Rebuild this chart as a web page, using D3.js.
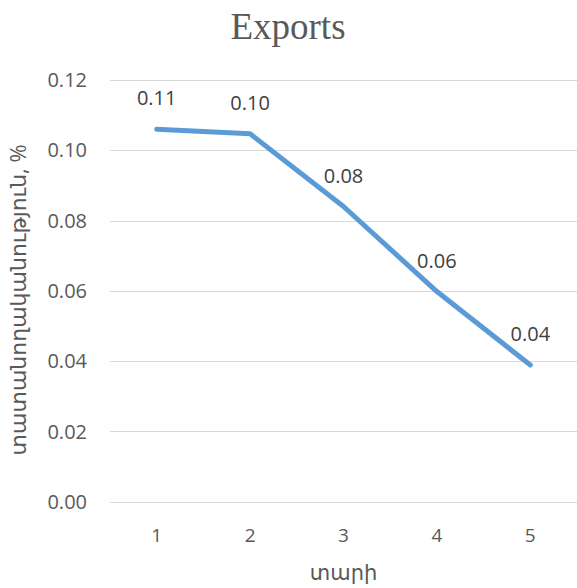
<!DOCTYPE html>
<html>
<head>
<meta charset="utf-8">
<script src="https://cdn.jsdelivr.net/npm/d3@7"></script>
<style>
  html, body { margin: 0; padding: 0; background: #fff; }
  svg { display: block; }
  text { font-family: "Open Sans", "DejaVu Sans", sans-serif; }
</style>
</head>
<body>
<svg id="chart" width="577" height="588"></svg>
<script>
const title = "Exports";
const xTitle = "տարի";
const yTitle = "տատանողականություն, %";
const categories = [1, 2, 3, 4, 5];
const values = [0.106, 0.1047, 0.0840, 0.0598, 0.0389];
const yTicks = [0, 0.02, 0.04, 0.06, 0.08, 0.10, 0.12];

const svg = d3.select("#chart");
const plot = { left: 110, right: 577, top: 80, bottom: 501.7 };

const x = d3.scaleBand().domain(categories).range([plot.left, plot.right]);
const y = d3.scaleLinear().domain([0, 0.12]).range([plot.bottom, plot.top]);
const cx = d => x(d) + x.bandwidth() / 2;

// gridlines
svg.append("g").selectAll("line").data(yTicks).join("line")
  .attr("x1", plot.left).attr("x2", plot.right)
  .attr("y1", d => Math.round(y(d)) + 0.5).attr("y2", d => Math.round(y(d)) + 0.5)
  .attr("stroke", "#d9d9d9").attr("stroke-width", 1);

// y tick labels
svg.append("g").selectAll("text").data(yTicks).join("text")
  .attr("x", 87).attr("y", d => y(d)).attr("dy", "0.36em")
  .attr("text-anchor", "end").attr("fill", "#595959").attr("font-size", 20)
  .text(d => d3.format(".2f")(d));

// x tick labels
svg.append("g").selectAll("text").data(categories).join("text")
  .attr("x", d => cx(d)).attr("y", 542)
  .attr("text-anchor", "middle").attr("fill", "#595959").attr("font-size", 19)
  .text(d => d);

// line
const line = d3.line().x((d, i) => cx(categories[i])).y(d => y(d));
svg.append("path").datum(values)
  .attr("d", line).attr("fill", "none")
  .attr("stroke", "#5b9bd5").attr("stroke-width", 5)
  .attr("stroke-linecap", "round").attr("stroke-linejoin", "round");

// data labels
svg.append("g").selectAll("text").data(values).join("text")
  .attr("x", (d, i) => cx(categories[i])).attr("y", d => y(d) - 24)
  .attr("text-anchor", "middle").attr("fill", "#404040").attr("font-size", 20)
  .text(d => d3.format(".2f")(d));

// title
svg.append("text").attr("x", 288).attr("y", 39)
  .attr("text-anchor", "middle").attr("fill", "#595959")
  .attr("font-size", 37).style("font-family", "'Liberation Serif', 'Times New Roman', serif")
  .text(title);

// x axis title
svg.append("text").attr("x", (plot.left + plot.right) / 2).attr("y", 580)
  .attr("text-anchor", "middle").attr("fill", "#595959").attr("font-size", 21)
  .text(xTitle);

// y axis title
svg.append("text")
  .attr("transform", `translate(26, ${(plot.top + plot.bottom) / 2 + 9}) rotate(-90)`)
  .attr("text-anchor", "middle").attr("fill", "#595959").attr("font-size", 22)
  .text(yTitle);
</script>
</body>
</html>
